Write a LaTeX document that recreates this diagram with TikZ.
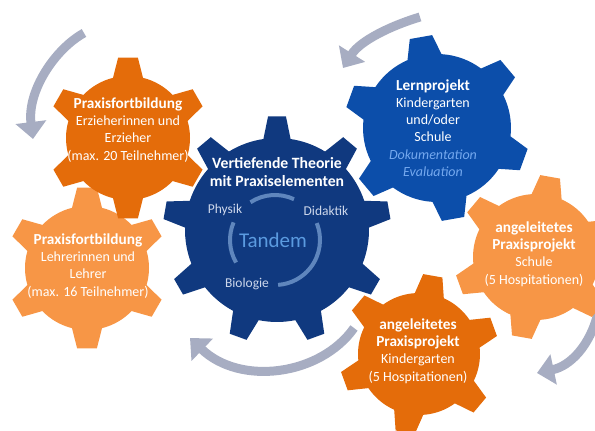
\documentclass[tikz,border=0pt]{standalone}
\usepackage{fontspec}
\setmainfont{Carlito}
\usetikzlibrary{arrows.meta}
\definecolor{orangedark}{HTML}{E46C0A}
\definecolor{orangelight}{HTML}{F79646}
\definecolor{navygear}{HTML}{10397F}
\definecolor{bluegear}{HTML}{0C4EAA}
\definecolor{arrowgray}{HTML}{A7ADC2}
\definecolor{tandemblue}{HTML}{5B9BE0}
\definecolor{docublue}{HTML}{74A8EE}
\definecolor{ringblue}{HTML}{5F86BD}
\definecolor{labelgray}{HTML}{CDD7EB}
% gear: centre, teeth, body radius, outer radius, first tooth angle, tip half angle, base half angle, colour
\newcommand{\drawgear}[8]{%
  \pgfmathsetmacro{\gearstep}{360/#2}
  \pgfmathtruncatemacro{\gearlast}{#2-1}
  \fill[#8,shift={#1}] ({#5-#7}:#3)
    \foreach \k in {0,...,\gearlast}{
      -- ({#5+\k*\gearstep-#6}:#4) -- ({#5+\k*\gearstep+#6}:#4)
      -- ({#5+\k*\gearstep+#7}:#3)
      arc[start angle={#5+\k*\gearstep+#7}, end angle={#5+(\k+1)*\gearstep-#7}, radius=#3]
    } -- cycle;
}
\newcommand{\gtitle}[1]{{\fontsize{15.3}{17.5}\selectfont\bfseries #1}}

\begin{document}
\begin{tikzpicture}[x=1pt,y=1pt,
  kreispfeil/.style={line width=9pt, arrowgray, -{Triangle[width=30pt,length=17pt]}},
  geartext/.style={text=white, align=center, inner sep=0pt, font=\fontsize{14}{17.2}\selectfont},
  fachtext/.style={text=labelgray, inner sep=0pt, font=\fontsize{13.5}{15}\selectfont},
  ringbogen/.style={ringblue, line width=4pt}]
\useasboundingbox (0,0) rectangle (595,431);

% centres of the gears
\coordinate (zKita) at (128,293);
\coordinate (zLehr) at (87,163);
\coordinate (zTheo) at (277,201);
\coordinate (zLern) at (437,303);
\coordinate (zSchule) at (536,174);
\coordinate (zKiga) at (419,77);
\coordinate (ring) at (275,191);

% arrows
\coordinate (p1a) at (84,398);  \coordinate (p1b) at (33,292);
\coordinate (p2a) at (420,414); \coordinate (p2b) at (343,363);
\coordinate (p3a) at (598,118); \coordinate (p3b) at (537,58);
\coordinate (p4a) at (354,103); \coordinate (p4b) at (190,93);
\draw[kreispfeil] (p1a) .. controls (55,382) and (27,340) .. (p1b);
\draw[kreispfeil] (p2a) .. controls (390,405) and (360,390) .. (p2b);
\draw[kreispfeil] (p3a) .. controls (590,85) and (570,65) .. (p3b);
\draw[kreispfeil] (p4a) .. controls (320,55) and (240,45) .. (p4b);

% gears
\drawgear{(zLehr)}{6}{62}{81}{90}{7}{14}{orangelight}
\drawgear{(zKita)}{6}{62}{81}{90}{7}{14}{orangedark}
\drawgear{(zTheo)}{9}{92}{114}{90}{4.5}{8.5}{navygear}
\drawgear{(zLern)}{6}{74}{93}{100}{7}{13.5}{bluegear}
\drawgear{(zSchule)}{6}{63}{82}{80}{7}{14}{orangelight}
\drawgear{(zKiga)}{6}{61}{80}{80}{7}{14}{orangedark}

% ring round Tandem
\draw[ringbogen] ([shift={(65:45)}]ring) arc[start angle=65, end angle=123, radius=45];
\draw[ringbogen] ([shift={(157:45)}]ring) arc[start angle=157, end angle=210, radius=45];
\draw[ringbogen] ([shift={(22:45)}]ring) arc[start angle=22, end angle=-86, radius=45];

% texts
\node[geartext] (fortbildungKita) at (128,301) {\gtitle{Praxisfortbildung}\\Erzieherinnen und\\Erzieher\\(max. 20 Teilnehmer)};
\node[geartext] (fortbildungSchule) at (88,165) {\gtitle{Praxisfortbildung}\\Lehrerinnen und\\Lehrer\\(max. 16 Teilnehmer)};
\node[geartext, font=\fontsize{15.7}{18.3}\selectfont\bfseries] (theorie) at (277,259) {Vertiefende Theorie\\mit Praxiselementen};
\node[fachtext] (physik) at (225,221) {Physik};
\node[fachtext] (didaktik) at (326,220) {Didaktik};
\node[fachtext] (biologie) at (247,147) {Biologie};
\node[text=tandemblue, inner sep=0pt, font=\fontsize{21}{24}\selectfont] (tandem) at (273,191) {Tandem};
\node[geartext] (lernprojekt) at (433,303) {\gtitle{Lernprojekt}\\Kindergarten\\und/oder\\Schule\\\textcolor{docublue}{\itshape Dokumentation}\\\textcolor{docublue}{\itshape Evaluation}};
\node[geartext] (praxisSchule) at (534,177) {\gtitle{angeleitetes}\\\gtitle{Praxisprojekt}\\Schule\\(5 Hospitationen)};
\node[geartext] (praxisKiga) at (418,80) {\gtitle{angeleitetes}\\\gtitle{Praxisprojekt}\\Kindergarten\\(5 Hospitationen)};
\end{tikzpicture}
\end{document}
